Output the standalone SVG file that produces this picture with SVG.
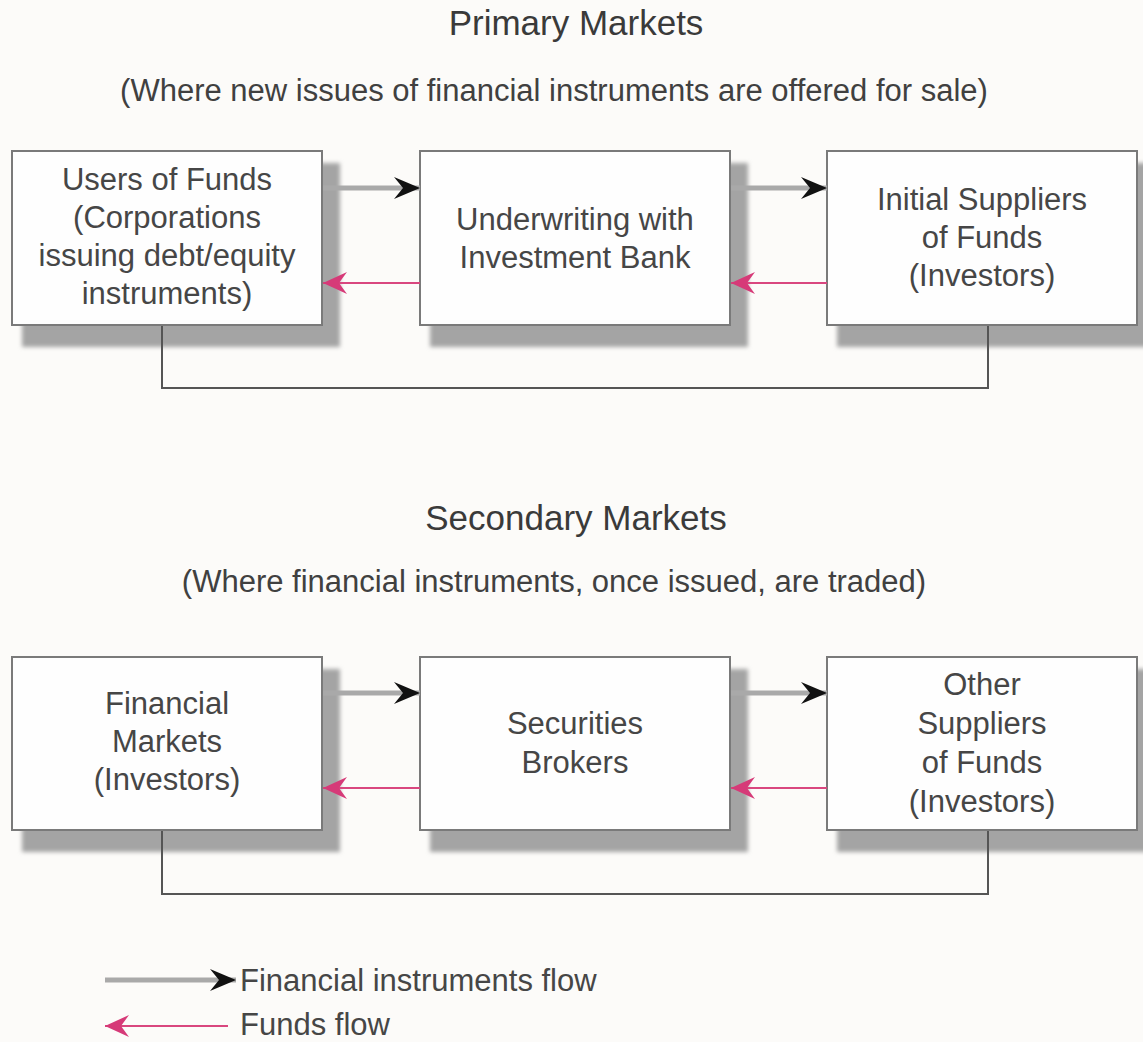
<svg xmlns="http://www.w3.org/2000/svg" width="1143" height="1042" viewBox="0 0 1143 1042">
<style>
.title{font-family:"Liberation Sans",Arial,sans-serif;font-size:35px;fill:#3a3a3a;text-anchor:middle}
.sub{font-family:"Liberation Sans",Arial,sans-serif;font-size:31px;fill:#404040;text-anchor:middle}
.lbl{font-family:"Liberation Sans",Arial,sans-serif;font-size:31px;fill:#464646;text-anchor:middle}
.leg{font-family:"Liberation Sans",Arial,sans-serif;font-size:31px;fill:#464646}
.box{fill:#fefefe;stroke:#7a7a7a;stroke-width:2}
.shadow{fill:#a4a4a4;filter:url(#blur)}
.inst{fill:none;stroke:#a9a9a9;stroke-width:5;marker-end:url(#blk)}
.fund{fill:none;stroke:#d9477f;stroke-width:2;marker-end:url(#pnk)}
.link{fill:none;stroke:#555;stroke-width:2}
</style>
<defs>
<filter id="blur" x="-10%" y="-10%" width="130%" height="130%"><feGaussianBlur stdDeviation="2"/></filter>
<marker id="blk" markerUnits="userSpaceOnUse" viewBox="0 0 26 22" refX="26" refY="11" markerWidth="26" markerHeight="22" orient="auto"><path d="M0,0 L26,11 L0,22 L9,11 Z" fill="#111"/></marker>
<marker id="pnk" markerUnits="userSpaceOnUse" viewBox="0 0 24 22" refX="24" refY="11" markerWidth="24" markerHeight="22" orient="auto"><path d="M0,0 L24,11 L0,22 L8,11 Z" fill="#d63a78"/></marker>
</defs>
<rect width="1143" height="1042" fill="#fcfbf9"/>

<text class="title" x="576" y="35">Primary Markets</text>
<text class="sub" x="554" y="101">(Where new issues of financial instruments are offered for sale)</text>
<text class="title" x="576" y="530">Secondary Markets</text>
<text class="sub" x="554" y="592">(Where financial instruments, once issued, are traded)</text>

<g id="n1">
<rect class="shadow" x="22" y="163" width="318" height="184"/>
<rect class="box" x="12" y="151" width="310" height="174"/>
<text class="lbl" x="167" y="190">Users of Funds</text>
<text class="lbl" x="167" y="228">(Corporations</text>
<text class="lbl" x="167" y="266">issuing debt/equity</text>
<text class="lbl" x="167" y="304">instruments)</text>
</g>
<g id="n2">
<rect class="shadow" x="430" y="163" width="318" height="184"/>
<rect class="box" x="420" y="151" width="310" height="174"/>
<text class="lbl" x="575" y="230">Underwriting with</text>
<text class="lbl" x="575" y="268">Investment Bank</text>
</g>
<g id="n3">
<rect class="shadow" x="837" y="163" width="318" height="184"/>
<rect class="box" x="827" y="151" width="310" height="174"/>
<text class="lbl" x="982" y="210">Initial Suppliers</text>
<text class="lbl" x="982" y="248">of Funds</text>
<text class="lbl" x="982" y="286">(Investors)</text>
</g>
<g id="n4">
<rect class="shadow" x="22" y="669" width="318" height="183"/>
<rect class="box" x="12" y="657" width="310" height="173"/>
<text class="lbl" x="167" y="714">Financial</text>
<text class="lbl" x="167" y="752">Markets</text>
<text class="lbl" x="167" y="790">(Investors)</text>
</g>
<g id="n5">
<rect class="shadow" x="430" y="669" width="318" height="183"/>
<rect class="box" x="420" y="657" width="310" height="173"/>
<text class="lbl" x="575" y="734">Securities</text>
<text class="lbl" x="575" y="773">Brokers</text>
</g>
<g id="n6">
<rect class="shadow" x="837" y="669" width="318" height="183"/>
<rect class="box" x="827" y="657" width="310" height="173"/>
<text class="lbl" x="982" y="695">Other</text>
<text class="lbl" x="982" y="734">Suppliers</text>
<text class="lbl" x="982" y="773">of Funds</text>
<text class="lbl" x="982" y="812">(Investors)</text>
</g>

<g id="connectors">
<path class="inst" d="M323,188 H420"/>
<path class="inst" d="M731,188 H827"/>
<path class="fund" d="M420,283 H323"/>
<path class="fund" d="M827,283 H731"/>
<path class="link" d="M162,326 V388 H988 V326"/>
<path class="inst" d="M323,693 H420"/>
<path class="inst" d="M731,693 H827"/>
<path class="fund" d="M420,788 H323"/>
<path class="fund" d="M827,788 H731"/>
<path class="link" d="M162,831 V894 H988 V831"/>
</g>

<g id="legend">
<path class="inst" d="M105,980 H236"/>
<text class="leg" x="240" y="991">Financial instruments flow</text>
<path class="fund" d="M228,1026 H105"/>
<text class="leg" x="240" y="1035">Funds flow</text>
</g>
</svg>
